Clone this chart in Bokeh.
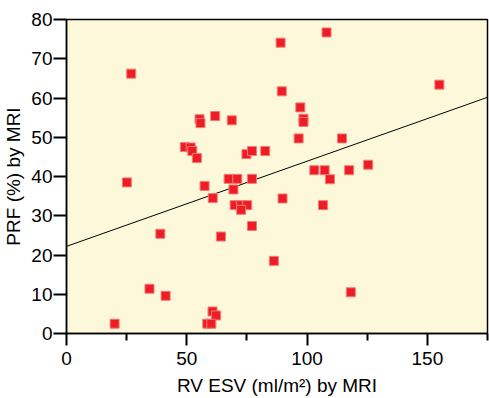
from bokeh.plotting import figure
from bokeh.models import ColumnDataSource, FixedTicker, Range1d
from bokeh.embed import file_html
from bokeh.resources import INLINE

# Data
rv_esv = [26.9, 55.3, 55.7, 61.8, 68.7, 49.2, 51.6, 52.3, 54.2, 74.8, 77.1, 82.6,
          89.0, 89.5, 67.4, 71.0, 77.1, 25.1, 108.1, 155.0, 97.2, 98.5, 98.5, 96.5,
          114.5, 103.0, 107.3, 117.5, 109.5, 125.4, 89.8, 106.6, 86.2, 118.2, 57.4,
          60.8, 69.4, 69.9, 72.6, 75.1, 72.6, 77.1, 39.0, 64.2, 34.5, 41.2, 20.0,
          60.7, 62.2, 58.5, 60.2]
prf = [66.2, 54.6, 53.6, 55.4, 54.3, 47.5, 47.4, 46.5, 44.7, 45.7, 46.5, 46.5,
       74.1, 61.7, 39.4, 39.4, 39.4, 38.5, 76.7, 63.4, 57.6, 54.7, 53.9, 49.7,
       49.7, 41.6, 41.6, 41.6, 39.3, 43.0, 34.4, 32.7, 18.5, 10.5, 37.6,
       34.5, 36.7, 32.7, 32.7, 32.7, 31.5, 27.4, 25.4, 24.7, 11.4, 9.6, 2.5,
       5.6, 4.6, 2.5, 2.5]
fit_intercept = 22.2
fit_slope = 0.217
x_major = [0, 50, 100, 150]
x_minor = [25, 75, 125, 175]
y_major = [0, 10, 20, 30, 40, 50, 60, 70, 80]

x_min, x_max = 0, 175
y_min, y_max = 0, 80

fit_x = [x_min, x_max]
fit_y = [fit_intercept + fit_slope * v for v in fit_x]

p = figure(width=489, height=398, output_backend="svg", toolbar_location=None,
           x_range=Range1d(x_min, x_max), y_range=Range1d(y_min, y_max))
p.min_border_left = 66
p.min_border_right = 2
p.min_border_top = 19
p.min_border_bottom = 64
p.background_fill_color = "#FDF8DA"
p.border_fill_color = "white"
p.outline_line_color = "black"
p.outline_line_width = 1.5
p.grid.visible = False

FONT = "Liberation Sans"

p.line(fit_x, fit_y, line_color="black", line_width=1)
src = ColumnDataSource(data=dict(x=rv_esv, y=prf))
p.scatter("x", "y", source=src, marker="square", size=9,
          fill_color="#EE1D23", line_color="#F27A7A", line_width=1)

xa = p.xaxis[0]
xa.ticker = FixedTicker(ticks=x_major, minor_ticks=x_minor)
xa.axis_label = "RV ESV (ml/m²) by MRI"
xa.major_tick_out = 12
xa.major_tick_in = 0
xa.minor_tick_out = 7
xa.minor_tick_in = 0
xa.major_tick_line_width = 2
xa.minor_tick_line_width = 2
xa.axis_line_width = 1.5
ya = p.yaxis[0]
ya.ticker = FixedTicker(ticks=y_major, minor_ticks=[])
ya.axis_label = "PRF (%) by MRI"
ya.major_tick_out = 13
ya.major_tick_in = 0
ya.major_tick_line_width = 2
ya.axis_line_width = 1.5

for ax in (xa, ya):
    ax.major_label_text_font = FONT
    ax.major_label_text_font_size = "19px"
    ax.major_label_text_color = "black"
    ax.axis_label_text_font = FONT
    ax.axis_label_text_font_size = "19px"
    ax.axis_label_text_font_style = "normal"
    ax.axis_label_text_color = "black"
    ax.axis_line_color = "black"
    ax.major_tick_line_color = "black"
    ax.minor_tick_line_color = "black"
xa.major_label_standoff = 6
xa.axis_label_standoff = 7
ya.major_label_standoff = 1
ya.axis_label_standoff = 4

open("out.html", "w").write(file_html(p, INLINE))
